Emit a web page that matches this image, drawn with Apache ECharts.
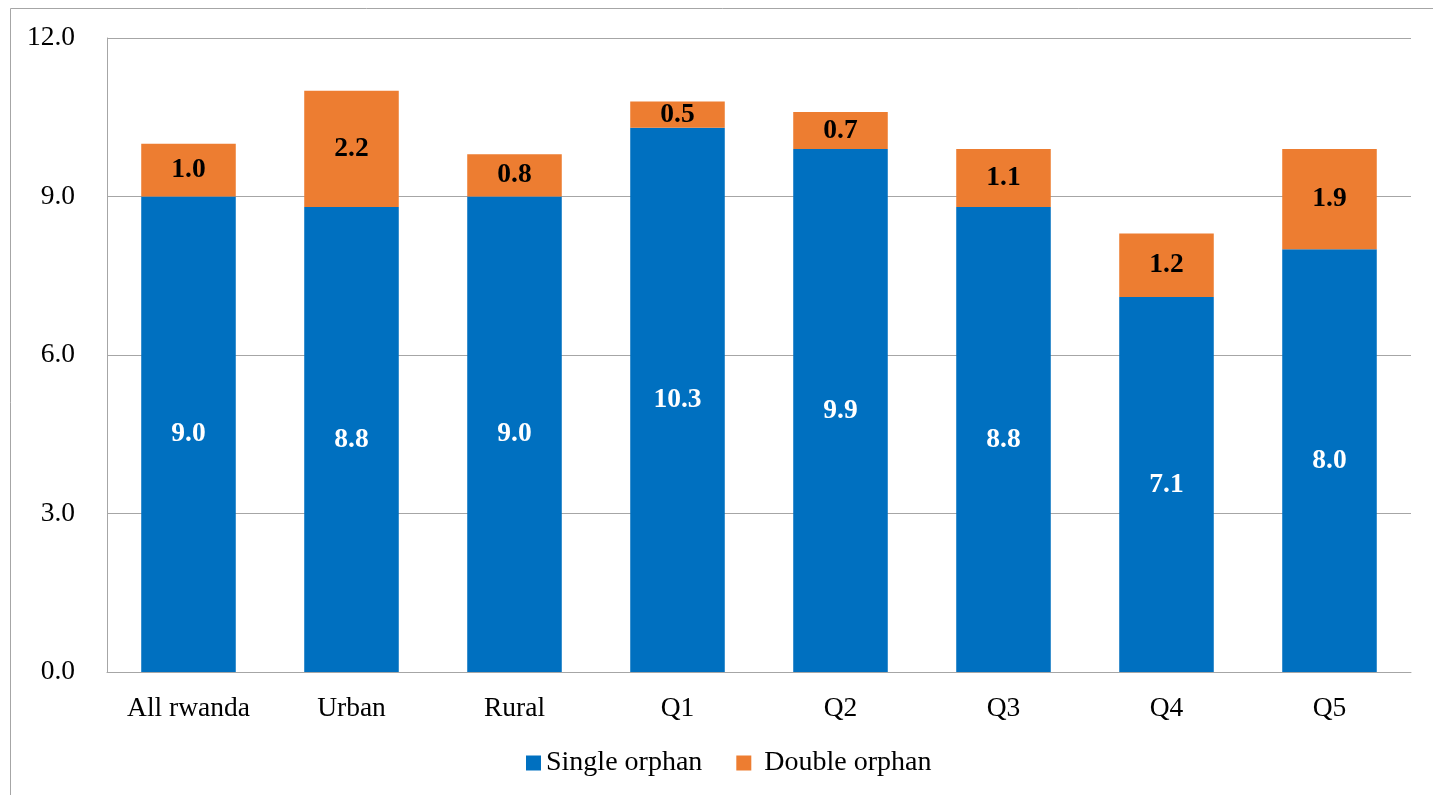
<!DOCTYPE html>
<html>
<head>
<meta charset="utf-8">
<script src="https://cdn.jsdelivr.net/npm/echarts@6/dist/echarts.min.js"></script>
<style>
  html, body { margin: 0; padding: 0; background: #fff; }
  #chart { width: 1433px; height: 795px; }
</style>
</head>
<body>
<div id="chart"></div>
<script>
// Orphan prevalence by area and wealth quintile
const categories = ['All rwanda', 'Urban', 'Rural', 'Q1', 'Q2', 'Q3', 'Q4', 'Q5'];
const singleOrphan = [9.0, 8.8, 9.0, 10.3, 9.9, 8.8, 7.1, 8.0];
const doubleOrphan = [1.0, 2.2, 0.8, 0.5, 0.7, 1.1, 1.2, 1.9];
const yTicks = { min: 0, max: 12, interval: 3 };

const FONT = '"Liberation Serif", "Times New Roman", serif';
const SIZE = 27.5;
const chart = echarts.init(document.getElementById('chart'));

const valueLabel = (color) => ({
  show: true, position: 'inside', color: color,
  fontFamily: FONT, fontWeight: 'bold', fontSize: 27.5,
  formatter: p => p.value.toFixed(1)
});

chart.setOption({
  animation: false,
  textStyle: { fontFamily: FONT },
  graphic: [{
    type: 'rect',
    silent: true,
    z: -10,
    shape: { x: 10.5, y: 8.5, width: 1500, height: 900 },
    style: { fill: 'none', stroke: '#a6a6a6', lineWidth: 1 }
  }],
  grid: { left: 107, right: 22, top: 38, bottom: 123, containLabel: false },
  legend: {
    bottom: 13,
    left: 521,
    itemWidth: 15,
    itemHeight: 15,
    itemGap: 34,
    icon: 'rect',
    textStyle: { fontFamily: FONT, fontSize: 28, color: '#000' },
    data: [
      { name: 'Single orphan' },
      { name: 'Double orphan', textStyle: { padding: [0, 0, 0, 8] } }
    ]
  },
  xAxis: {
    type: 'category',
    data: categories,
    axisLine: { lineStyle: { color: '#a6a6a6', width: 1 } },
    axisTick: { show: false },
    axisLabel: { color: '#000', fontFamily: FONT, fontSize: SIZE, margin: 23 }
  },
  yAxis: {
    type: 'value',
    min: yTicks.min,
    max: yTicks.max,
    interval: yTicks.interval,
    axisLine: { show: true, lineStyle: { color: '#a6a6a6', width: 1 } },
    axisTick: { show: false },
    splitLine: { lineStyle: { color: '#a6a6a6', width: 1 } },
    axisLabel: {
      color: '#000', fontFamily: FONT, fontSize: SIZE, margin: 32,
      formatter: v => v.toFixed(1)
    }
  },
  series: [
    {
      name: 'Single orphan',
      type: 'bar',
      stack: 'orphan',
      data: singleOrphan,
      barWidth: '58%',
      itemStyle: { color: '#0070C0' },
      label: valueLabel('#fff')
    },
    {
      name: 'Double orphan',
      type: 'bar',
      stack: 'orphan',
      data: doubleOrphan,
      barWidth: '58%',
      itemStyle: { color: '#ED7D31' },
      label: valueLabel('#000')
    }
  ]
});
</script>
</body>
</html>
